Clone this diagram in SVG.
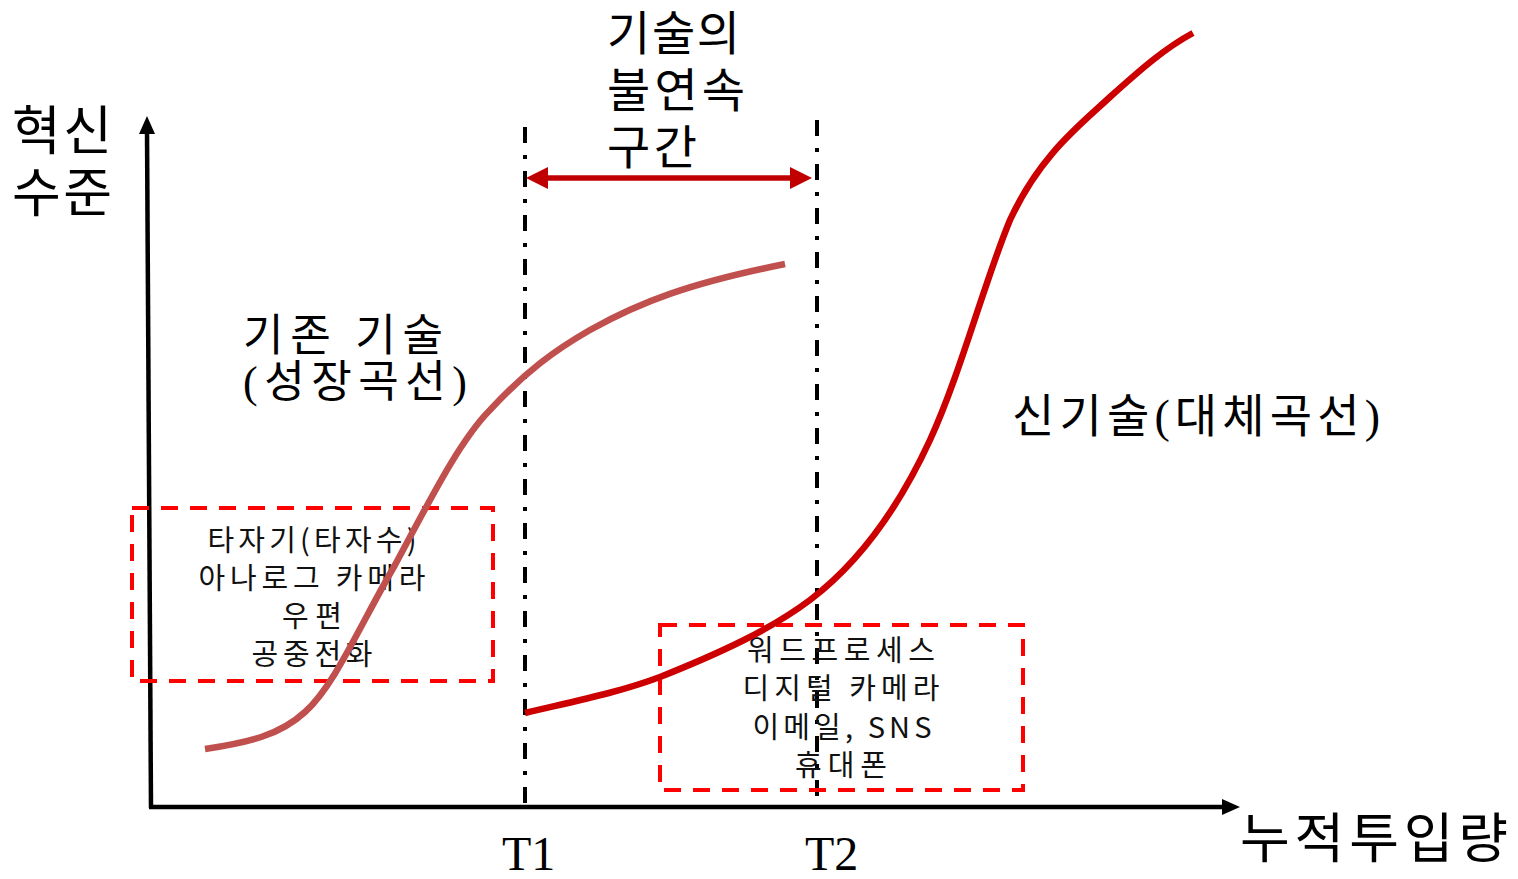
<svg xmlns="http://www.w3.org/2000/svg" width="1518" height="879" viewBox="0 0 1518 879">
<style>
.axis{fill:none;stroke:#000;stroke-width:4.5}
.head{fill:#000}
.vline{fill:none;stroke:#000;stroke-width:4;stroke-dasharray:16 12 4 12}
.old{fill:none;stroke:#C0504D;stroke-width:6.5}
.new{fill:none;stroke:#CC0000;stroke-width:6.5}
.gap{fill:none;stroke:#C00000;stroke-width:5.5}
.gaphead{fill:#C00000}
.box{fill:none;stroke:#FF0000;stroke-width:4;stroke-dasharray:17 12}
.big{font-family:"Liberation Serif","Noto Sans CJK KR",serif;fill:#000}
.small{font-family:"Noto Sans CJK KR","Noto Sans",sans-serif;font-size:29px;fill:#111;text-anchor:middle}
</style>
<rect width="1518" height="879" fill="#fff"/>
<g id="axes">
<polyline class="axis" points="151,808 147,130"/>
<polygon class="head" points="147,116 139,134 155,134"/>
<polyline class="axis" points="149,807 1224,807"/>
<polygon class="head" points="1240,807 1222,799 1222,815"/>
</g>
<g id="connectors">
<line class="vline" x1="525" y1="127" x2="525" y2="805"/>
<line class="vline" x1="817" y1="120" x2="817" y2="805"/>
<line class="gap" x1="545" y1="178" x2="793" y2="178"/>
<polygon class="gaphead" points="526,178 548,167 548,189"/>
<polygon class="gaphead" points="812,178 790,167 790,189"/>
</g>
<g id="box-old">
<rect class="box" x="132" y="508" width="361" height="173"/>
<text class="small" x="312" y="551" textLength="209" lengthAdjust="spacing">타자기(타자수)</text>
<text class="small" x="312" y="589" textLength="227" lengthAdjust="spacing">아나로그 카메라</text>
<text class="small" x="312" y="627" textLength="60" lengthAdjust="spacing">우편</text>
<text class="small" x="312" y="665" textLength="121" lengthAdjust="spacing">공중전화</text>
</g>
<g id="box-new">
<rect class="box" x="660" y="625" width="363" height="165"/>
<text class="small" x="841" y="661" textLength="188" lengthAdjust="spacing">워드프로세스</text>
<text class="small" x="841" y="699" textLength="197" lengthAdjust="spacing">디지털 카메라</text>
<text class="small" x="842" y="738" textLength="179" lengthAdjust="spacing">이메일, SNS</text>
<text class="small" x="841" y="776" textLength="92" lengthAdjust="spacing">휴대폰</text>
</g>
<g id="curve-old">
<path class="old" d="M205,749 C250,742 280,735 305,712 C335,685 360,625 395,565 C430,500 460,440 490,410 C525,372 555,350 590,330 C640,302 690,283 785,264"/>
</g>
<g id="curve-new">
<path class="new" d="M525,713 C580,700 620,692 660,677 C720,653 770,630 810,600 C860,562 900,505 930,440 C960,375 985,280 1010,220 C1040,155 1080,125 1110,97 C1140,70 1165,48 1193,33"/>
</g>
<g id="label-y">
<text class="big" x="12" y="150" font-size="53" textLength="100" lengthAdjust="spacing">혁신</text>
<text class="big" x="12" y="212" font-size="53" textLength="100" lengthAdjust="spacing">수준</text>
</g>
<g id="label-gap">
<text class="big" x="607" y="50" font-size="47" textLength="133" lengthAdjust="spacing">기술의</text>
<text class="big" x="607" y="107" font-size="47" textLength="138" lengthAdjust="spacing">불연속</text>
<text class="big" x="607" y="164" font-size="47" textLength="90" lengthAdjust="spacing">구간</text>
</g>
<g id="label-old">
<text class="big" x="243" y="351" font-size="44" textLength="200" lengthAdjust="spacing">기존 기술</text>
<text class="big" x="243" y="397" font-size="44" textLength="224" lengthAdjust="spacing">(성장곡선)</text>
</g>
<g id="label-new">
<text class="big" x="1012" y="432" font-size="46" textLength="368" lengthAdjust="spacing">신기술(대체곡선)</text>
</g>
<g id="label-x">
<text class="big" x="1240" y="858" font-size="54" textLength="268" lengthAdjust="spacing">누적투입량</text>
<text class="big" x="502" y="870" font-size="48">T1</text>
<text class="big" x="805" y="870" font-size="48">T2</text>
</g>
</svg>
